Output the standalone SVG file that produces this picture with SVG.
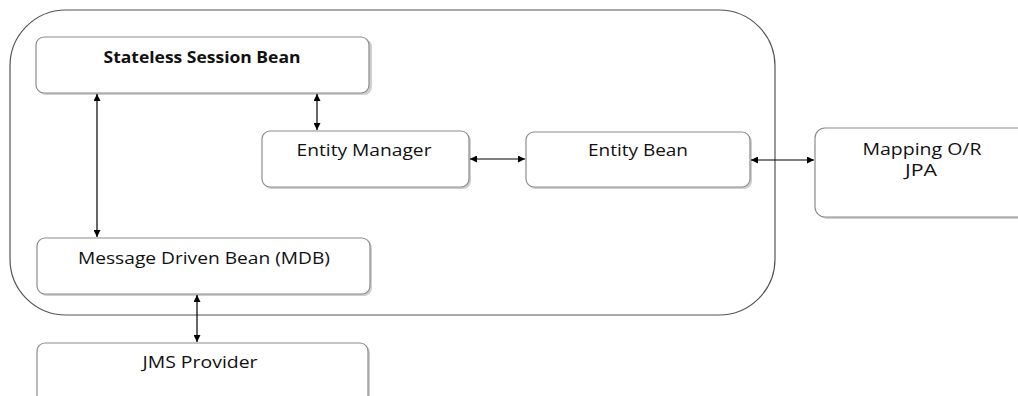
<svg xmlns="http://www.w3.org/2000/svg" width="1018" height="396" viewBox="0 0 1018 396">
<style>
.box{fill:#fff;stroke:#8c8c8c;stroke-width:1.2}
.shadow{fill:#cfcfcf}
.t{font-family:"Open Sans","Liberation Sans",sans-serif;font-size:16px;fill:#111;text-anchor:middle}
.b{font-weight:bold}
.c{stroke:#000;stroke-width:1.2;fill:none;marker-start:url(#ah);marker-end:url(#ah)}
</style>
<defs>
<marker id="ah" viewBox="0 0 10 10" refX="10" refY="5" markerWidth="7" markerHeight="7" markerUnits="userSpaceOnUse" orient="auto-start-reverse">
<path d="M0,0 L10,5 L0,10 z" fill="#000"/>
</marker>
</defs>
<rect id="container" x="10" y="10" width="765" height="305" rx="56" ry="56" fill="none" stroke="#555" stroke-width="1.2"/>
<g id="ssb">
<rect class="shadow" x="38" y="39" width="334" height="56" rx="8"/>
<rect class="box" x="36" y="37" width="333" height="56" rx="8"/>
<text class="t b" x="202" y="63" textLength="197" lengthAdjust="spacingAndGlyphs">Stateless Session Bean</text>
</g>
<g id="em">
<rect class="shadow" x="264" y="133" width="207" height="56" rx="8"/>
<rect class="box" x="262" y="131" width="207" height="56" rx="8"/>
<text class="t" x="364" y="156" textLength="135" lengthAdjust="spacingAndGlyphs">Entity Manager</text>
</g>
<g id="eb">
<rect class="shadow" x="528" y="134" width="224" height="55" rx="8"/>
<rect class="box" x="526" y="132" width="224" height="55" rx="8"/>
<text class="t" x="638" y="156" textLength="100" lengthAdjust="spacingAndGlyphs">Entity Bean</text>
</g>
<g id="mapping">
<rect class="shadow" x="817" y="130" width="220" height="89" rx="10"/>
<rect class="box" x="815" y="128" width="220" height="89" rx="10"/>
<text class="t" x="922" y="155" textLength="119" lengthAdjust="spacingAndGlyphs">Mapping O/R</text>
<text class="t" x="921" y="176" textLength="32" lengthAdjust="spacingAndGlyphs">JPA</text>
</g>
<g id="mdb">
<rect class="shadow" x="39" y="240" width="333" height="56" rx="8"/>
<rect class="box" x="37" y="238" width="333" height="56" rx="8"/>
<text class="t" x="204" y="264" textLength="252" lengthAdjust="spacingAndGlyphs">Message Driven Bean (MDB)</text>
</g>
<g id="jms">
<rect class="shadow" x="39" y="345" width="331" height="70" rx="8"/>
<rect class="box" x="37" y="343" width="331" height="70" rx="8"/>
<text class="t" x="200" y="368" textLength="115" lengthAdjust="spacingAndGlyphs">JMS Provider</text>
</g>
<g id="connectors">
<line class="c" x1="317" y1="94" x2="317" y2="130"/>
<line class="c" x1="97" y1="94" x2="97" y2="237"/>
<line class="c" x1="470" y1="159" x2="525" y2="159"/>
<line class="c" x1="751" y1="160" x2="814" y2="160"/>
<line class="c" x1="197" y1="295" x2="197" y2="342"/>
</g>
</svg>
